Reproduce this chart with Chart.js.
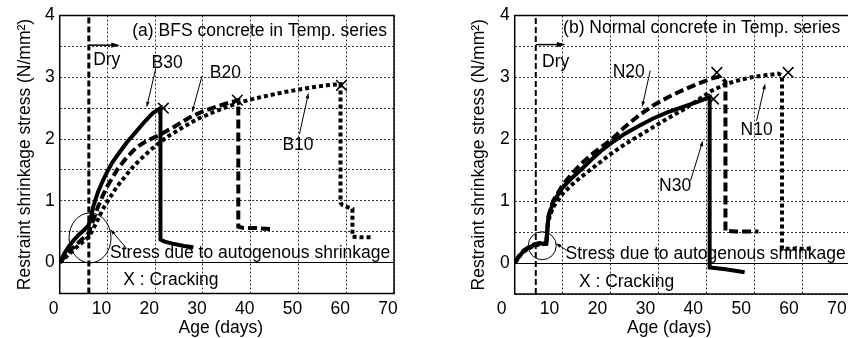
<!DOCTYPE html>
<html>
<head>
<meta charset="utf-8">
<script src="https://cdn.jsdelivr.net/npm/chart.js@4.4.0/dist/chart.umd.min.js"></script>
<style>
  html, body { margin: 0; padding: 0; background: #fff; overflow: hidden; }
  body { width: 848px; height: 338px; position: relative; }
  #chart-bfs { position: absolute; left: 0; top: 0; }
  #chart-normal { position: absolute; left: 424px; top: 0; }
</style>
</head>
<body>
<canvas id="chart-bfs" width="424" height="338" style="width:424px;height:338px"></canvas>
<canvas id="chart-normal" width="460" height="338" style="width:460px;height:338px"></canvas>
<script>
const ageRange = [0, 70];
const stressRange = [-0.5, 4];

// (a) BFS concrete
const b30Age = [0, 1, 2, 3, 4, 5, 6, 6.5, 7, 8, 9, 10, 11, 12, 14, 16, 18, 19.5, 21.1, 21.1, 22, 24, 26, 28];
const b30Stress = [0, 0.15, 0.27, 0.37, 0.45, 0.52, 0.6, 0.72, 0.9, 1.14, 1.32, 1.48, 1.62, 1.73, 1.94, 2.12, 2.3, 2.42, 2.5, 0.37, 0.34, 0.3, 0.27, 0.25];
const b20Age = [0, 2, 4, 6, 7, 8, 9, 10, 12, 14, 16, 18, 21, 24, 27, 30, 33, 36, 37.4, 37.4, 38.5, 41, 44.5];
const b20Stress = [0, 0.18, 0.33, 0.47, 0.68, 0.9, 1.08, 1.24, 1.5, 1.7, 1.86, 1.96, 2.07, 2.2, 2.34, 2.45, 2.53, 2.6, 2.63, 0.58, 0.56, 0.56, 0.54];
const b10Age = [0, 2, 4, 6, 7, 8, 9, 10, 12, 15, 17, 20, 23, 26, 29, 32, 35, 38, 41, 44, 47, 50, 53, 56, 58.8, 58.8, 59.2, 61.3, 61.3, 63, 65.7];
const b10Stress = [0, 0.14, 0.28, 0.41, 0.54, 0.7, 0.86, 0.99, 1.23, 1.52, 1.68, 1.89, 2.06, 2.2, 2.33, 2.43, 2.52, 2.6, 2.66, 2.71, 2.76, 2.8, 2.84, 2.87, 2.89, 0.97, 0.93, 0.87, 0.42, 0.41, 0.41];
const bCrackAge = [21.7, 37.2, 59.0];
const bCrackStress = [2.5, 2.63, 2.87];
const bDryAge = 6.1;

// (b) Normal concrete
const n30Age = [0, 1, 2, 3, 4, 5, 6.6, 7, 8, 10, 12, 14, 16, 18, 20, 23, 26, 29, 32, 35, 38, 40.7, 40.7, 44, 48];
const n30Stress = [0, 0.12, 0.2, 0.25, 0.29, 0.31, 0.32, 0.72, 0.98, 1.22, 1.38, 1.52, 1.67, 1.81, 1.93, 2.09, 2.22, 2.34, 2.44, 2.52, 2.6, 2.68, -0.07, -0.1, -0.15];
const n20Age = [0, 1, 2, 3, 4, 5, 6.6, 7, 8, 10, 12, 14, 16, 18, 20, 23, 26, 29, 32, 35, 38, 41, 42.5, 43.5, 44, 44, 46, 50.9];
const n20Stress = [0, 0.13, 0.21, 0.26, 0.3, 0.32, 0.33, 0.75, 1.0, 1.26, 1.45, 1.61, 1.75, 1.87, 1.98, 2.2, 2.39, 2.55, 2.68, 2.79, 2.89, 2.98, 3.01, 2.97, 2.93, 0.52, 0.51, 0.51];
const n10Age = [0, 1, 2, 3, 4, 5, 6.6, 7, 8, 10, 12, 14, 16, 18, 20, 23, 26, 29, 32, 35, 38, 41, 44, 47, 50, 53, 55, 55.8, 55.8, 58, 62.3];
const n10Stress = [0, 0.11, 0.19, 0.24, 0.28, 0.3, 0.31, 0.68, 0.9, 1.12, 1.27, 1.4, 1.52, 1.64, 1.76, 1.92, 2.06, 2.2, 2.34, 2.47, 2.62, 2.78, 2.89, 2.96, 3.01, 3.04, 3.06, 3.03, 0.23, 0.23, 0.23];
const nCrackAge = [41.5, 42.2, 57.1];
const nCrackStress = [2.65, 3.08, 3.08];
const nDryAge = 4.4;

const FONT = "'Liberation Sans', Arial, sans-serif";
const FONT_SIZE = 17.5;

Chart.defaults.font.family = FONT;
Chart.defaults.font.size = FONT_SIZE;
Chart.defaults.color = '#000';

function zip(xs, ys) {
  return xs.map((x, i) => ({ x, y: ys[i] }));
}

function drawArrow(ctx, x1, y1, x2, y2, width, head) {
  const ang = Math.atan2(y2 - y1, x2 - x1);
  ctx.lineWidth = width;
  ctx.beginPath();
  ctx.moveTo(x1, y1);
  ctx.lineTo(x2 - Math.cos(ang) * head * 0.6, y2 - Math.sin(ang) * head * 0.6);
  ctx.stroke();
  ctx.beginPath();
  ctx.moveTo(x2, y2);
  ctx.lineTo(x2 - head * Math.cos(ang - 0.3), y2 - head * Math.sin(ang - 0.3));
  ctx.lineTo(x2 - head * Math.cos(ang + 0.3), y2 - head * Math.sin(ang + 0.3));
  ctx.closePath();
  ctx.fill();
}

// labels, arrows, circle, frame and x title
const notesPlugin = {
  id: 'notes',
  afterDatasetsDraw(chart, args, opts) {
    const { ctx, chartArea: area } = chart;
    const xs = chart.scales.x, ys = chart.scales.y;
    const px = v => xs.getPixelForValue(v);
    const py = v => ys.getPixelForValue(v);
    ctx.save();
    ctx.fillStyle = '#000';
    ctx.strokeStyle = '#000';
    ctx.font = FONT_SIZE + 'px ' + FONT;
    ctx.textBaseline = 'middle';
    opts.texts.forEach(t => {
      ctx.textAlign = t.align || 'left';
      ctx.fillText(t.text, px(t.x), py(t.y));
    });
    opts.arrows.forEach(a => {
      drawArrow(ctx, px(a.from[0]), py(a.from[1]), px(a.to[0]), py(a.to[1]), a.width || 1, a.head || 6);
    });
    opts.ellipses.forEach(e => {
      ctx.lineWidth = 1;
      ctx.beginPath();
      ctx.ellipse(px(e.x), py(e.y), e.rx, e.ry, 0, 0, Math.PI * 2);
      ctx.stroke();
    });
    ctx.lineWidth = 1.5;
    ctx.strokeRect(area.left, area.top, area.right - area.left, area.bottom - area.top);
    ctx.textAlign = 'center';
    const cx = (px(ageRange[0]) + px(ageRange[1])) / 2 + opts.labelOffset;
    ctx.fillText('Age (days)', cx, chart.height - 10);
    ctx.restore();
  },
};

function renderPanel(id, series, crackAge, crackStress, dryAge, panel) {
  const datasets = series.map(s => ({
    data: zip(s.age, s.stress),
    showLine: true,
    borderColor: '#000',
    borderWidth: 4,
    borderDash: s.dash,
    borderCapStyle: 'butt',
    pointRadius: 0,
  }));
  datasets.push({
    data: zip([dryAge, dryAge], stressRange),
    showLine: true,
    borderColor: '#000',
    borderWidth: panel.dryWidth,
    borderDash: [6, 3],
    pointRadius: 0,
  });
  datasets.push({
    data: zip(crackAge, crackStress),
    showLine: false,
    pointStyle: 'crossRot',
    pointRadius: 7.5,
    borderWidth: 1.5,
    borderColor: '#000',
  });

  const isZero = c => c.tick && Math.abs(c.tick.value) < 1e-9;

  new Chart(document.getElementById(id), {
    type: 'scatter',
    data: { datasets },
    options: {
      responsive: false,
      animation: false,
      layout: { padding: { left: 0, top: panel.top, right: panel.right, bottom: 0 } },
      plugins: {
        legend: { display: false },
        tooltip: { enabled: false },
        notes: panel.notes,
      },
      scales: {
        x: {
          type: 'linear',
          min: ageRange[0],
          max: ageRange[1],
          afterFit: s => { s.height = panel.xHeight; },
          ticks: {
            stepSize: 10,
            autoSkip: false,
            maxRotation: 0,
            padding: 5,
            labelOffset: panel.notes.labelOffset,
          },
          grid: { color: '#333', lineWidth: 1, drawTicks: false },
          border: { display: false, dash: [2, 2] },
        },
        y: {
          min: stressRange[0],
          max: stressRange[1],
          afterFit: s => { s.width = panel.yWidth; },
          ticks: {
            stepSize: 0.5,
            padding: 5,
            callback: v => (Math.abs(v - Math.round(v)) < 1e-6 ? Math.round(v) : ''),
          },
          grid: {
            color: c => (isZero(c) ? '#000' : '#333'),
            lineWidth: 1,
            drawTicks: false,
          },
          border: { display: false, dash: c => (isZero(c) ? [] : [2, 2]) },
          title: {
            display: true,
            text: 'Restraint shrinkage stress (N/mm²)',
            padding: { top: panel.titlePad, bottom: 0 },
          },
        },
      },
    },
    plugins: [notesPlugin],
  });
}

renderPanel('chart-bfs', [
  { age: b30Age, stress: b30Stress, dash: [] },
  { age: b20Age, stress: b20Stress, dash: [9, 4] },
  { age: b10Age, stress: b10Stress, dash: [4, 3] },
], bCrackAge, bCrackStress, bDryAge, {
  top: 14.5, right: 30, xHeight: 44.5, yWidth: 59.7, titlePad: 14.5, dryWidth: 3,
  notes: {
    labelOffset: -6,
    texts: [
      { text: '(a) BFS concrete in Temp. series', x: 15.2, y: 3.75 },
      { text: 'Dry', x: 7.0, y: 3.27 },
      { text: 'B30', x: 22.5, y: 3.23, align: 'center' },
      { text: 'B20', x: 34.7, y: 3.07, align: 'center' },
      { text: 'B10', x: 49.9, y: 1.9, align: 'center' },
      { text: 'Stress due to autogenous shrinkage', x: 10.55, y: 0.15 },
      { text: 'X : Cracking', x: 13.3, y: -0.28 },
    ],
    arrows: [
      { from: [6.1, 3.52], to: [12.6, 3.52], width: 1.5, head: 9 },
      { from: [20.1, 3.14], to: [18.2, 2.51] },
      { from: [29.8, 3.02], to: [27.7, 2.43] },
      { from: [50.2, 2.08], to: [52.1, 2.75] },
      { from: [14.0, 0.23], to: [10.6, 0.54] },
    ],
    ellipses: [{ x: 6.35, y: 0.4, rx: 21, ry: 25 }],
  },
});

renderPanel('chart-normal', [
  { age: n30Age, stress: n30Stress, dash: [] },
  { age: n20Age, stress: n20Stress, dash: [9, 4] },
  { age: n10Age, stress: n10Stress, dash: [4, 3] },
], nCrackAge, nCrackStress, nDryAge, {
  top: 15, right: 34, xHeight: 44, yWidth: 90.7, titlePad: 45, dryWidth: 2,
  notes: {
    labelOffset: -13,
    texts: [
      { text: '(b) Normal concrete in Temp. series', x: 10.1, y: 3.79 },
      { text: 'Dry', x: 5.7, y: 3.25 },
      { text: 'N20', x: 23.8, y: 3.08, align: 'center' },
      { text: 'N10', x: 50.5, y: 2.14, align: 'center' },
      { text: 'N30', x: 33.5, y: 1.25, align: 'center' },
      { text: 'Stress due to autogenous shrinkage', x: 10.6, y: 0.15 },
      { text: 'X : Cracking', x: 13.4, y: -0.31 },
    ],
    arrows: [
      { from: [4.4, 3.53], to: [10.6, 3.53], width: 1.5, head: 9 },
      { from: [28.3, 3.11], to: [26.6, 2.52] },
      { from: [50.5, 2.3], to: [52.3, 2.9] },
      { from: [36.7, 1.33], to: [39.3, 1.98] },
      { from: [10.96, 0.2], to: [8.54, 0.32] },
    ],
    ellipses: [{ x: 5.75, y: 0.28, rx: 14, ry: 14 }],
  },
});
</script>
</body>
</html>
